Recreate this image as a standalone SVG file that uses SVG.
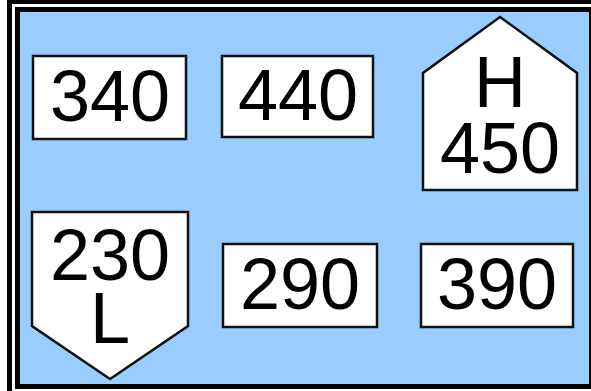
<svg xmlns="http://www.w3.org/2000/svg" width="591" height="391" viewBox="0 0 591 391">
<style>
.sign{fill:#ffffff;stroke:#111111;stroke-width:2.5}
.lbl{font-family:"Liberation Sans",Arial,sans-serif;font-size:72px;fill:#000000;text-anchor:middle}
</style>
<rect x="0" y="0" width="591" height="391" fill="#ffffff"/>
<rect x="7" y="0" width="584" height="391" fill="#000000"/>
<rect x="12" y="4" width="579" height="387" fill="#ffffff"/>
<rect x="15" y="7" width="576" height="382" fill="#000000"/>
<rect x="20" y="12" width="569" height="372" fill="#99ccff"/>
<g id="connectors"/>
<g id="n340">
<rect class="sign" x="33" y="56" width="153" height="83"/>
<text class="lbl" x="110" y="121">340</text>
</g>
<g id="n440">
<rect class="sign" x="222" y="56" width="151" height="81"/>
<text class="lbl" x="298" y="120">440</text>
</g>
<g id="nH450">
<polygon class="sign" points="500,17 577,73 577,190 423,190 423,73"/>
<text class="lbl" x="500" y="107">H</text>
<text class="lbl" x="500" y="173">450</text>
</g>
<g id="n230L">
<polygon class="sign" points="32,212 188,212 188,326 110,379 32,326"/>
<text class="lbl" x="110" y="280">230</text>
<text class="lbl" x="110" y="343">L</text>
</g>
<g id="n290">
<rect class="sign" x="223" y="244" width="154" height="83"/>
<text class="lbl" x="300" y="309">290</text>
</g>
<g id="n390">
<rect class="sign" x="421" y="244" width="152" height="83"/>
<text class="lbl" x="497" y="309">390</text>
</g>
</svg>
